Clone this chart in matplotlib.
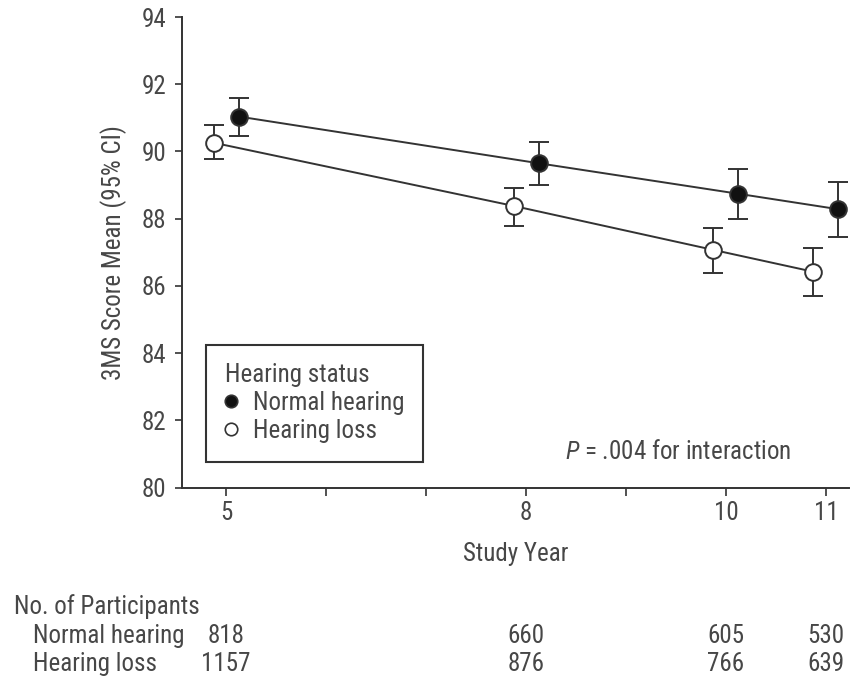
import matplotlib
matplotlib.use("Agg")
import matplotlib.pyplot as plt
import matplotlib.transforms as mtransforms
from matplotlib.lines import Line2D

# data
years = [5, 8, 10, 11]
normal_mean = [91.04, 89.65, 88.74, 88.28]
normal_lo = [90.46, 89.00, 87.99, 87.46]
normal_hi = [91.58, 90.27, 89.49, 89.08]
loss_mean = [90.26, 88.38, 87.07, 86.42]
loss_lo = [89.77, 87.79, 86.39, 85.70]
loss_hi = [90.78, 88.92, 87.72, 87.12]

n_normal = [818, 660, 605, 530]
n_loss = [1157, 876, 766, 639]

xtick_pos = [5, 6, 7, 8, 9, 10, 11]
xtick_labels = ["5", "", "", "8", "", "10", "11"]
yticks = [80, 82, 84, 86, 88, 90, 92, 94]

ink = "#333333"
txt = "#474747"
fs = 18
plt.rcParams["font.family"] = ["Roboto Condensed", "DejaVu Sans"]
plt.rcParams["mathtext.fontset"] = "custom"
plt.rcParams["mathtext.it"] = "Roboto Condensed:italic"
plt.rcParams["mathtext.rm"] = "Roboto Condensed"

fig = plt.figure(figsize=(8.58, 6.81), dpi=100)
ax = fig.add_axes([0.2118, 0.2841, 0.7777, 0.6909])

off = 0.125
xn = [y + off for y in years]
xl = [y - off for y in years]

ax.plot(xn, normal_mean, color=ink, lw=1.4, zorder=2)
ax.plot(xl, loss_mean, color=ink, lw=1.4, zorder=2)
ax.errorbar(xn, normal_mean,
            yerr=[[m - l for m, l in zip(normal_mean, normal_lo)],
                  [h - m for m, h in zip(normal_mean, normal_hi)]],
            fmt="o", ms=12, mfc="#111111", mec=ink, mew=1.4,
            ecolor=ink, elinewidth=1.4, capsize=7.5, capthick=1.4, zorder=3)
ax.errorbar(xl, loss_mean,
            yerr=[[m - l for m, l in zip(loss_mean, loss_lo)],
                  [h - m for m, h in zip(loss_mean, loss_hi)]],
            fmt="o", ms=12, mfc="white", mec=ink, mew=1.4,
            ecolor=ink, elinewidth=1.4, capsize=7.5, capthick=1.4, zorder=3)

ax.set_xlim(4.557, 11.23)
ax.set_ylim(80, 94)
ax.set_xticks(xtick_pos)
ax.set_xticklabels(xtick_labels)
ax.set_yticks(yticks)
for s in ["top", "right"]:
    ax.spines[s].set_visible(False)
for s in ["left", "bottom"]:
    ax.spines[s].set_color(ink)
    ax.spines[s].set_linewidth(1.4)
ax.tick_params(axis="x", length=6, width=1.2, color=ink, labelsize=fs,
               labelcolor=txt, pad=4)
ax.tick_params(axis="y", length=5, width=1.2, color=ink, labelsize=fs,
               labelcolor=txt, pad=6)

ax.set_xlabel("Study Year", fontsize=fs, color=txt, labelpad=12)
ax.set_ylabel("3MS Score Mean (95% CI)", fontsize=fs, color=txt)
ax.yaxis.set_label_coords(-0.082, 0.5)

ax.text(8.39, 81.06, r"$P$ = .004 for interaction", fontsize=fs,
        color=txt, ha="left", va="center")

handles = [
    Line2D([], [], ls="none", marker="o", ms=9, mfc="#111111", mec=ink, mew=1.2),
    Line2D([], [], ls="none", marker="o", ms=9, mfc="white", mec=ink, mew=1.2),
]
leg = ax.legend(handles, ["Normal hearing", "Hearing loss"],
                title="Hearing status", alignment="left",
                loc="lower left", bbox_to_anchor=(0.037, 0.055),
                borderaxespad=0, fontsize=fs, title_fontsize=fs,
                frameon=True, fancybox=False, framealpha=1,
                edgecolor=ink, borderpad=0.75, handlelength=0.5,
                handletextpad=0.6, labelspacing=0.15)
leg.get_frame().set_linewidth(1.5)
leg.get_title().set_color(txt)
for t in leg.get_texts():
    t.set_color(txt)

# participant counts under the axis
tr = mtransforms.blended_transform_factory(ax.transData, fig.transFigure)
fig.text(0.0163, 0.1087, "No. of Participants", fontsize=fs, color=txt,
         ha="left", va="center")
fig.text(0.0385, 0.066, "Normal hearing", fontsize=fs, color=txt,
         ha="left", va="center")
fig.text(0.0385, 0.0255, "Hearing loss", fontsize=fs, color=txt,
         ha="left", va="center")
for yr, a, b in zip(years, n_normal, n_loss):
    ax.text(yr, 0.066, str(a), transform=tr, fontsize=fs, color=txt,
            ha="center", va="center", clip_on=False)
    ax.text(yr, 0.0255, str(b), transform=tr, fontsize=fs, color=txt,
            ha="center", va="center", clip_on=False)

fig.savefig("out.png", dpi=100)
